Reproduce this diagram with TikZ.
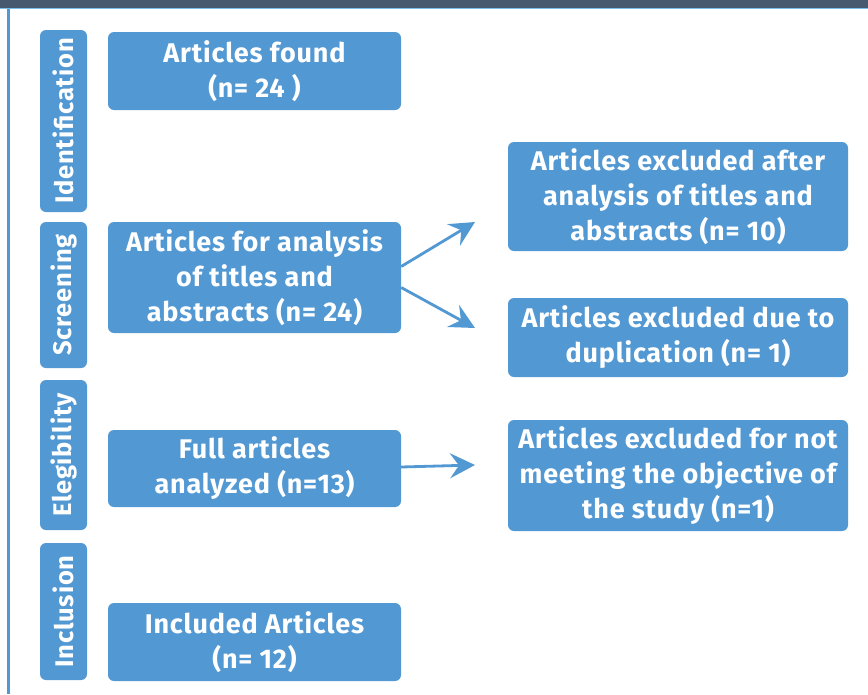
\documentclass[tikz,border=0pt]{standalone}
\usepackage{fontspec}
\setmainfont{Fira Sans}[LetterSpace=3]
\usetikzlibrary{arrows.meta}
\definecolor{boxblue}{RGB}{82,152,211}
\definecolor{barslate}{RGB}{71,89,110}
\definecolor{linelight}{RGB}{120,190,235}
\begin{document}
\begin{tikzpicture}[x=1pt,y=-1pt,
  box/.style={fill=boxblue, rounded corners=6pt, text=white,
    font=\bfseries\fontsize{27}{35}\selectfont, align=center, inner sep=0pt},
  stage/.style={fill=boxblue, rounded corners=6pt, text=white, rotate=90,
    font=\bfseries\fontsize{25.5}{28}\selectfont, inner sep=0pt, minimum height=47pt},
  arr/.style={draw=boxblue, line width=2.8pt, -{Stealth[length=25pt,width=25pt,inset=9pt]}}]
\useasboundingbox (0,0) rectangle (868,694);
\fill[barslate] (0,0) rectangle (868,8);
\draw[linelight, line width=1pt] (0,8.5) -- (868,8.5);
\fill[boxblue] (7,9) rectangle (10,694);

% stage labels
\node[stage, minimum width=182pt] (sid) at (63.5,121) {Identification};
\node[stage, minimum width=146pt] (ssc) at (63.5,295) {Screening};
\node[stage, minimum width=150pt] (sel) at (63.5,455) {Elegibility};
\node[stage, minimum width=137pt] (sin) at (63.5,611.5) {Inclusion};

% left column
\node[box, minimum width=293pt, minimum height=78pt] (found) at (254.5,71) {Articles found\\(n= 24 )};
\node[box, minimum width=293pt, minimum height=111pt] (screen) at (254.5,277.5) {Articles for analysis\\of titles and\\abstracts (n= 24)};
\node[box, minimum width=293pt, minimum height=77pt] (full) at (254.5,468.5) {Full articles\\analyzed (n=13)};
\node[box, minimum width=293pt, minimum height=78pt] (incl) at (254.5,642) {Included Articles\\(n= 12)};

% right column
\node[box, minimum width=340pt, minimum height=109pt] (exa) at (678,196.5) {Articles excluded after\\analysis of titles and\\abstracts (n= 10)};
\node[box, minimum width=340pt, minimum height=79pt] (exd) at (678,337.5) {Articles excluded due to\\duplication (n= 1)};
\node[box, minimum width=340pt, minimum height=111pt] (exn) at (678,475.5) {Articles excluded for not\\meeting the objective of\\the study (n=1)};

% arrows
\coordinate (ea) at (475,222);
\coordinate (ed) at (475,328);
\coordinate (en) at (475,465);
\draw[arr] ([yshift=11pt]screen.east) -- (ea);
\draw[arr] ([yshift=-10pt]screen.east) -- (ed);
\draw[arr] ([yshift=1.5pt]full.east) -- (en);
\end{tikzpicture}
\end{document}
